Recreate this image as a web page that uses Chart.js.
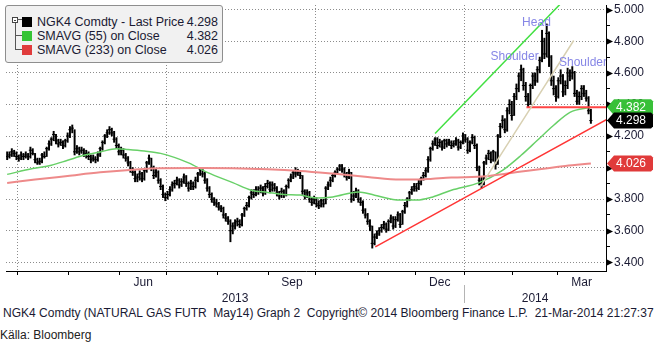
<!DOCTYPE html>
<html>
<head>
<meta charset="utf-8">
<script src="https://cdn.jsdelivr.net/npm/chart.js@4/dist/chart.umd.min.js"></script>
<style>
  body { margin: 0; background: #fff; }
  #wrap { position: relative; width: 656px; height: 346px; overflow: hidden; font-family: "Liberation Sans", Arial, sans-serif; color: #1a1a33; }
  #chart { position: absolute; left: 0; top: 0; }
  #legend { position: absolute; left: 5px; top: 5px; width: 216px; height: 56px; background: #f1f1f1; border: 1px solid #8e8e8e; border-radius: 3px; font-size: 12.5px; }
  #legend .row { position: absolute; left: 0; width: 212px; height: 14px; line-height: 14px; white-space: nowrap; }
  #legend .sw { position: absolute; left: 16px; top: 2px; width: 10px; height: 10px; }
  #legend .name { position: absolute; left: 31px; }
  #legend .val { position: absolute; right: 0; }
  .tree-box { position: absolute; left: 6px; top: 11px; width: 4px; height: 4px; border: 1px solid #444; background: #fff; }
  .tree-box::after { content: ""; position: absolute; left: 1px; top: 1.5px; width: 2px; height: 1px; background: #444; }
  .tree-v { position: absolute; left: 8.5px; top: 17px; width: 1px; height: 27px; background: #555; }
  .tree-h { position: absolute; left: 9px; width: 7px; height: 1px; background: #555; }
  #foot { position: absolute; left: 3px; top: 306px; font-size: 12px; white-space: pre; color: #1a1a33; }
  #foot span { display: inline-block; transform-origin: 0 0; }
  #source { position: absolute; left: 0; top: 328px; font-size: 12px; color: #222; }
</style>
</head>
<body>
<div id="wrap">
  <canvas id="chart" width="656" height="306"></canvas>
  <div id="legend">
    <div class="tree-box"></div>
    <div class="tree-v"></div>
    <div class="tree-h" style="top:13px; left:11px; width:5px"></div>
    <div class="tree-h" style="top:29px"></div>
    <div class="tree-h" style="top:43px"></div>
    <div class="row" style="top:9px"><span class="sw" style="background:#000"></span><span class="name">NGK4 Comdty - Last Price</span><span class="val" id="val0"></span></div>
    <div class="row" style="top:23px"><span class="sw" style="background:#35c435"></span><span class="name">SMAVG (55) on Close</span><span class="val" id="val1"></span></div>
    <div class="row" style="top:37px"><span class="sw" style="background:#e03c3c"></span><span class="name">SMAVG (233) on Close</span><span class="val" id="val2"></span></div>
  </div>
  <div id="foot"><span>NGK4 Comdty (NATURAL GAS FUTR  May14) Graph 2  Copyright© 2014 Bloomberg Finance L.P.  21-Mar-2014 21:27:37</span></div>
  <div id="source">Källa: Bloomberg</div>
</div>
<script>
// daily bars, trading day index 0 = first bar (late March 2013)
const highs = [
  4.10,4.10,4.12,4.11,4.10,4.08,4.10,4.09,4.10,4.09,
  4.13,4.12,4.09,4.06,4.06,4.09,4.10,4.13,4.17,4.19,
  4.23,4.21,4.18,4.18,4.17,4.18,4.22,4.26,4.27,4.24,
  4.14,4.13,4.13,4.12,4.11,4.10,4.08,4.08,4.07,4.10,
  4.13,4.17,4.21,4.24,4.26,4.25,4.23,4.19,4.15,4.13,
  4.12,4.09,4.07,4.04,4.00,3.98,3.96,3.98,3.97,3.99,
  4.04,4.08,4.06,4.01,3.99,3.98,3.93,3.89,3.84,3.85,
  3.88,3.91,3.92,3.94,3.93,3.93,3.96,3.95,3.91,3.92,
  3.91,3.94,3.97,4.00,4.00,3.97,3.93,3.88,3.84,3.81,
  3.80,3.78,3.76,3.75,3.71,3.69,3.67,3.65,3.67,3.68,
  3.67,3.71,3.75,3.78,3.82,3.86,3.86,3.88,3.88,3.89,
  3.88,3.90,3.92,3.91,3.91,3.90,3.88,3.85,3.87,3.86,
  3.89,3.93,3.96,3.98,4.00,3.99,3.98,3.95,3.86,3.86,
  3.85,3.81,3.82,3.81,3.79,3.80,3.80,3.88,3.91,3.94,
  3.96,3.98,4.00,4.02,4.02,4.00,3.97,3.99,3.97,3.85,
  3.87,3.86,3.81,3.79,3.74,3.71,3.67,3.63,3.58,3.60,
  3.62,3.64,3.66,3.65,3.67,3.70,3.69,3.69,3.72,3.71,
  3.73,3.78,3.81,3.85,3.88,3.90,3.90,3.92,3.94,3.97,
  4.00,4.07,4.13,4.17,4.19,4.19,4.18,4.17,4.18,4.18,
  4.18,4.17,4.17,4.19,4.18,4.17,4.22,4.21,4.19,4.17,
  4.21,4.20,4.15,4.01,3.94,4.04,4.08,4.11,4.10,4.11,
  4.10,4.21,4.28,4.33,4.31,4.38,4.43,4.42,4.47,4.53,
  4.60,4.65,4.63,4.54,4.47,4.53,4.60,4.60,4.64,4.70,
  4.87,4.82,4.91,4.86,4.71,4.58,4.52,4.57,4.62,4.59,
  4.55,4.63,4.62,4.64,4.61,4.49,4.48,4.52,4.52,4.49,4.45,4.37
];
const lows = [
  4.05,4.06,4.07,4.07,4.05,4.04,4.05,4.05,4.06,4.05,
  4.06,4.08,4.03,4.02,4.02,4.03,4.06,4.07,4.11,4.14,
  4.17,4.15,4.13,4.14,4.12,4.13,4.16,4.19,4.22,4.08,
  4.09,4.08,4.09,4.07,4.06,4.05,4.03,4.04,4.03,4.04,
  4.07,4.11,4.15,4.19,4.21,4.20,4.16,4.12,4.08,4.08,
  4.06,4.04,4.01,3.97,3.95,3.91,3.91,3.92,3.91,3.92,
  3.97,4.02,3.98,3.93,3.94,3.90,3.86,3.81,3.79,3.80,
  3.82,3.85,3.87,3.89,3.87,3.88,3.90,3.88,3.85,3.86,
  3.86,3.87,3.91,3.95,3.94,3.90,3.85,3.81,3.78,3.76,
  3.75,3.73,3.72,3.68,3.66,3.64,3.53,3.58,3.61,3.63,
  3.62,3.63,3.69,3.73,3.75,3.80,3.81,3.82,3.83,3.84,
  3.82,3.83,3.87,3.84,3.85,3.85,3.82,3.80,3.81,3.81,
  3.82,3.87,3.91,3.93,3.94,3.95,3.93,3.83,3.80,3.81,
  3.78,3.76,3.77,3.75,3.74,3.75,3.75,3.77,3.86,3.88,
  3.91,3.94,3.96,3.98,3.97,3.94,3.92,3.93,3.78,3.79,
  3.81,3.78,3.76,3.71,3.68,3.64,3.60,3.49,3.51,3.55,
  3.57,3.59,3.61,3.59,3.60,3.65,3.61,3.62,3.66,3.62,
  3.64,3.71,3.75,3.79,3.83,3.85,3.85,3.86,3.89,3.92,
  3.94,3.97,4.04,4.11,4.14,4.12,4.13,4.11,4.12,4.13,
  4.14,4.12,4.13,4.14,4.11,4.12,4.15,4.16,4.09,4.10,
  4.15,4.12,3.98,3.89,3.87,3.89,4.02,4.05,4.03,4.04,
  3.99,4.02,4.19,4.25,4.22,4.23,4.34,4.30,4.33,4.43,
  4.48,4.55,4.49,4.42,4.38,4.40,4.50,4.52,4.54,4.60,
  4.67,4.69,4.70,4.64,4.52,4.46,4.42,4.44,4.53,4.45,
  4.46,4.50,4.55,4.56,4.45,4.40,4.40,4.43,4.45,4.42,4.34,4.28
];
const closes = [
  4.07,4.08,4.10,4.09,4.07,4.06,4.08,4.07,4.08,4.07,
  4.11,4.09,4.05,4.03,4.04,4.08,4.07,4.12,4.15,4.18,
  4.21,4.17,4.15,4.16,4.14,4.17,4.20,4.24,4.25,4.10,
  4.12,4.10,4.11,4.08,4.09,4.07,4.05,4.06,4.05,4.08,
  4.12,4.16,4.20,4.22,4.24,4.22,4.18,4.14,4.10,4.11,
  4.08,4.06,4.03,3.99,3.97,3.93,3.94,3.96,3.93,3.98,
  4.03,4.06,4.00,3.95,3.97,3.92,3.88,3.83,3.81,3.83,
  3.86,3.89,3.90,3.92,3.89,3.91,3.94,3.90,3.87,3.90,
  3.88,3.92,3.96,3.99,3.96,3.92,3.87,3.83,3.80,3.78,
  3.77,3.75,3.74,3.70,3.68,3.66,3.60,3.63,3.65,3.66,
  3.64,3.70,3.74,3.76,3.81,3.84,3.83,3.86,3.85,3.87,
  3.84,3.88,3.90,3.86,3.89,3.87,3.84,3.82,3.85,3.83,
  3.88,3.92,3.94,3.97,3.96,3.97,3.95,3.85,3.82,3.84,
  3.80,3.78,3.80,3.77,3.76,3.79,3.77,3.87,3.89,3.92,
  3.95,3.97,3.99,4.01,3.99,3.96,3.94,3.97,3.80,3.82,
  3.85,3.80,3.78,3.73,3.70,3.66,3.63,3.52,3.56,3.58,
  3.60,3.62,3.64,3.61,3.66,3.68,3.63,3.67,3.70,3.64,
  3.72,3.76,3.80,3.84,3.86,3.88,3.87,3.90,3.93,3.95,
  3.98,4.05,4.12,4.15,4.18,4.14,4.16,4.13,4.17,4.15,
  4.16,4.14,4.15,4.17,4.13,4.16,4.20,4.18,4.11,4.16,
  4.19,4.14,4.00,3.92,3.90,4.03,4.06,4.09,4.05,4.10,
  4.02,4.20,4.26,4.30,4.24,4.36,4.40,4.33,4.45,4.50,
  4.58,4.62,4.52,4.45,4.40,4.52,4.58,4.55,4.62,4.68,
  4.80,4.72,4.85,4.70,4.55,4.50,4.45,4.55,4.58,4.48,
  4.52,4.60,4.58,4.60,4.47,4.42,4.45,4.50,4.47,4.44,4.36,4.298
];

// moving averages, read at sample days
const sma55Days = [0, 11, 19, 26, 33, 40, 47, 52, 59, 66, 78, 86, 97, 105, 112, 119, 126, 133, 140, 151, 158, 169, 176, 183, 191, 203, 213, 221, 228, 235, 242, 251];
const sma55 = [3.957, 3.994, 4.015, 4.046, 4.078, 4.099, 4.12, 4.115, 4.105, 4.09, 4.03, 3.97, 3.905, 3.857, 3.843, 3.83, 3.826, 3.808, 3.814, 3.846, 3.825, 3.794, 3.794, 3.814, 3.857, 3.905, 3.983, 4.078, 4.173, 4.268, 4.35, 4.382];
const sma233Days = [0, 12, 26, 40, 54, 66, 84, 112, 126, 140, 155, 169, 176, 183, 191, 206, 215, 240, 251];
const sma233 = [3.903, 3.924, 3.947, 3.97, 3.987, 3.996, 3.997, 3.989, 3.979, 3.962, 3.941, 3.924, 3.924, 3.93, 3.937, 3.945, 3.962, 4.01, 4.026];

// hand-drawn trend lines
const channelDays = [184, 244];
const channelPrices = [4.216, 5.13];
const steepDays = [203.5, 243.6];
const steepPrices = [3.88, 4.805];
const supportDays = [158.3, 258];
const supportPrices = [3.498, 4.306];
const necklineDays = [223.3, 258];
const necklinePrices = [4.383, 4.383];

const noteTexts = ['Shoulder', 'Head', 'Shoulder'];
const noteDays = [218.2, 227.6, 247.6];
const notePrices = [4.70, 4.92, 4.665];

// axis: trading-day index of each month start, Apr 2013 .. Mar 2014
const monthStarts = [5, 27, 49, 69, 91, 113, 133, 156, 176, 197, 218, 237];
const monthNames = ['Apr', 'May', 'Jun', 'Jul', 'Aug', 'Sep', 'Oct', 'Nov', 'Dec', 'Jan', 'Feb', 'Mar'];
const lastDay = 258;
const yearStarts = [0, 197];
const yearLabels = ['2013', '2014'];
const priceTicks = [3.4, 3.6, 3.8, 4.0, 4.2, 4.4, 4.6, 4.8, 5.0];

const FONT = '"Liberation Sans", Arial, sans-serif';
const TEXT = '#1a1a33';
const last = arr => arr[arr.length - 1];

document.getElementById('val0').textContent = last(closes).toFixed(3);
document.getElementById('val1').textContent = last(sma55).toFixed(3);
document.getElementById('val2').textContent = last(sma233).toFixed(3);

// month label sits mid-month, only for the last month of each quarter
const monthEnds = monthStarts.slice(1).concat(lastDay);
const monthLabelAt = new Map();
monthStarts.forEach((s, i) => {
  if (i % 3 === 2) monthLabelAt.set((s + monthEnds[i]) / 2, monthNames[i]);
});
const quarterStarts = monthStarts.filter((s, i) => i % 3 === 0);
const yearEnds = yearStarts.slice(1).concat(lastDay);
const yearCenters = yearStarts.map((s, i) => (s + yearEnds[i]) / 2);

const yTicks = priceTicks.concat(priceTicks.slice(1).map(v => +(v - 0.1).toFixed(2)));
const isMajor = v => Math.abs(v * 5 - Math.round(v * 5)) < 1e-6;

const line = (days, prices, color, width) => ({
  type: 'line',
  xAxisID: 'x', yAxisID: 'y',
  data: days.map((d, i) => ({ x: d + 0.5, y: prices[i] })),
  borderColor: color,
  borderWidth: width,
  pointRadius: 0,
  cubicInterpolationMode: 'monotone',
  order: 2
});

const overlay = {
  id: 'overlay',
  afterDatasetsDraw(chart) {
    const { ctx, chartArea: a, scales: { x, y } } = chart;
    ctx.save();
    ctx.beginPath();
    ctx.rect(a.left, a.top, a.right - a.left, a.bottom - a.top);
    ctx.clip();
    ctx.font = '12px ' + FONT;
    ctx.fillStyle = '#8686e6';
    ctx.textAlign = 'center';
    ctx.textBaseline = 'middle';
    noteTexts.forEach((t, i) => {
      ctx.fillText(t, x.getPixelForValue(noteDays[i] + 0.5), y.getPixelForValue(notePrices[i]));
    });
    ctx.restore();
  },
  afterDraw(chart) {
    const { ctx, chartArea: a, scales: { x, y, years } } = chart;
    ctx.save();
    // arrow heads on the major price ticks
    ctx.fillStyle = '#000';
    priceTicks.forEach(v => {
      const py = Math.round(y.getPixelForValue(v)) + 0.5;
      ctx.beginPath();
      ctx.moveTo(a.right, py - 3.5);
      ctx.lineTo(a.right + 7, py);
      ctx.lineTo(a.right, py + 3.5);
      ctx.closePath();
      ctx.fill();
    });
    // last value tags on the price axis
    const tags = [
      { v: last(sma55), bg: '#38c038' },
      { v: last(closes), bg: '#000' },
      { v: last(sma233), bg: '#e03a3a' }
    ];
    ctx.font = '12px ' + FONT;
    ctx.textBaseline = 'middle';
    ctx.textAlign = 'left';
    tags.forEach(t => {
      const py = y.getPixelForValue(t.v);
      const x0 = a.right + 1;
      ctx.beginPath();
      ctx.moveTo(x0, py);
      ctx.lineTo(x0 + 7, py - 8);
      ctx.lineTo(x0 + 44, py - 8);
      ctx.lineTo(x0 + 46, py - 6);
      ctx.lineTo(x0 + 46, py + 6);
      ctx.lineTo(x0 + 44, py + 8);
      ctx.lineTo(x0 + 7, py + 8);
      ctx.closePath();
      ctx.fillStyle = t.bg;
      ctx.fill();
      ctx.fillStyle = '#fff';
      ctx.fillText(t.v.toFixed(3), x0 + 9, py + 0.5);
    });
    // separator between the year labels
    const sx = Math.round(x.getPixelForValue(yearStarts[1])) + 0.5;
    ctx.strokeStyle = '#b4b4b4';
    ctx.lineWidth = 1;
    ctx.beginPath();
    ctx.moveTo(sx, years.top - 6);
    ctx.lineTo(sx, years.bottom - 3);
    ctx.stroke();
    ctx.restore();
  }
};

new Chart(document.getElementById('chart'), {
  type: 'bar',
  data: {
    datasets: [
      {
        type: 'bar',
        xAxisID: 'x', yAxisID: 'y',
        data: highs.map((h, i) => ({ x: i + 0.5, y: [lows[i], h] })),
        backgroundColor: '#000',
        barThickness: 1.3,
        grouped: false,
        order: 5
      },
      {
        type: 'scatter',
        xAxisID: 'x', yAxisID: 'y',
        data: closes.map((c, i) => ({ x: i + 0.5, y: c })),
        pointStyle: 'line',
        pointRadius: 1.6,
        pointBorderWidth: 1,
        borderColor: '#000',
        backgroundColor: '#000',
        order: 4
      },
      Object.assign(line(sma233Days, sma233, '#ee8a8a', 2), { order: 3 }),
      Object.assign(line(sma55Days, sma55, '#68d068', 1.5), { order: 3 }),
      line(steepDays, steepPrices, '#d8d0b2', 1.5),
      line(channelDays, channelPrices, '#42e042', 1.5),
      line(supportDays, supportPrices, '#ff3535', 1.5),
      line(necklineDays, necklinePrices, '#ff4545', 2)
    ]
  },
  options: {
    responsive: false,
    animation: false,
    devicePixelRatio: 1,
    layout: { padding: { left: 6, top: 4, right: 0, bottom: 0 } },
    plugins: { legend: { display: false }, tooltip: { enabled: false } },
    font: { family: FONT },
    scales: {
      x: {
        type: 'linear',
        position: 'bottom',
        weight: 0,
        min: 0,
        max: lastDay,
        offset: false,
        afterBuildTicks: s => {
          s.ticks = monthStarts.concat([...monthLabelAt.keys()]).map(v => ({ value: v }));
        },
        afterFit: s => { s.height = 20; s.paddingLeft = 0; s.paddingRight = 0; },
        grid: {
          offset: false,
          color: c => quarterStarts.includes(c.tick.value) ? '#8c8c8c' : 'transparent',
          tickColor: c => monthStarts.includes(c.tick.value) ? '#000' : 'transparent',
          tickLength: 4,
          lineWidth: 1
        },
        border: { color: '#000', width: 1, dash: [1, 2] },
        ticks: {
          autoSkip: false,
          maxRotation: 0,
          padding: 0,
          color: TEXT,
          font: { family: FONT, size: 12 },
          callback: v => monthLabelAt.get(v) || ''
        }
      },
      years: {
        axis: 'x',
        type: 'linear',
        position: 'bottom',
        weight: 1,
        min: 0,
        max: lastDay,
        offset: false,
        afterBuildTicks: s => { s.ticks = yearCenters.map(v => ({ value: v })); },
        afterFit: s => { s.height = 15; s.paddingLeft = 0; s.paddingRight = 0; },
        grid: { display: false, drawTicks: false, offset: false },
        border: { display: false },
        ticks: {
          autoSkip: false,
          maxRotation: 0,
          padding: 0,
          color: TEXT,
          font: { family: FONT, size: 12 },
          callback: (v, i) => yearLabels[i]
        }
      },
      y: {
        position: 'right',
        min: 3.345,
        max: 5.03,
        afterBuildTicks: s => { s.ticks = yTicks.map(v => ({ value: v })); },
        afterFit: s => { s.width = 50; s.paddingTop = 0; s.paddingBottom = 0; },
        grid: {
          color: c => isMajor(c.tick.value) ? '#8c8c8c' : 'transparent',
          tickColor: '#000',
          tickLength: 4,
          lineWidth: 1
        },
        border: { color: '#000', width: 1, dash: [1, 2] },
        ticks: {
          autoSkip: false,
          padding: 4,
          color: TEXT,
          font: { family: FONT, size: 12 },
          callback: v => isMajor(v) ? v.toFixed(3) : ''
        }
      }
    }
  },
  plugins: [overlay]
});

// stretch the footer line to the full width
const footSpan = document.querySelector('#foot span');
footSpan.style.transform = 'scaleX(' + (651 / footSpan.offsetWidth) + ')';
</script>
</body>
</html>
